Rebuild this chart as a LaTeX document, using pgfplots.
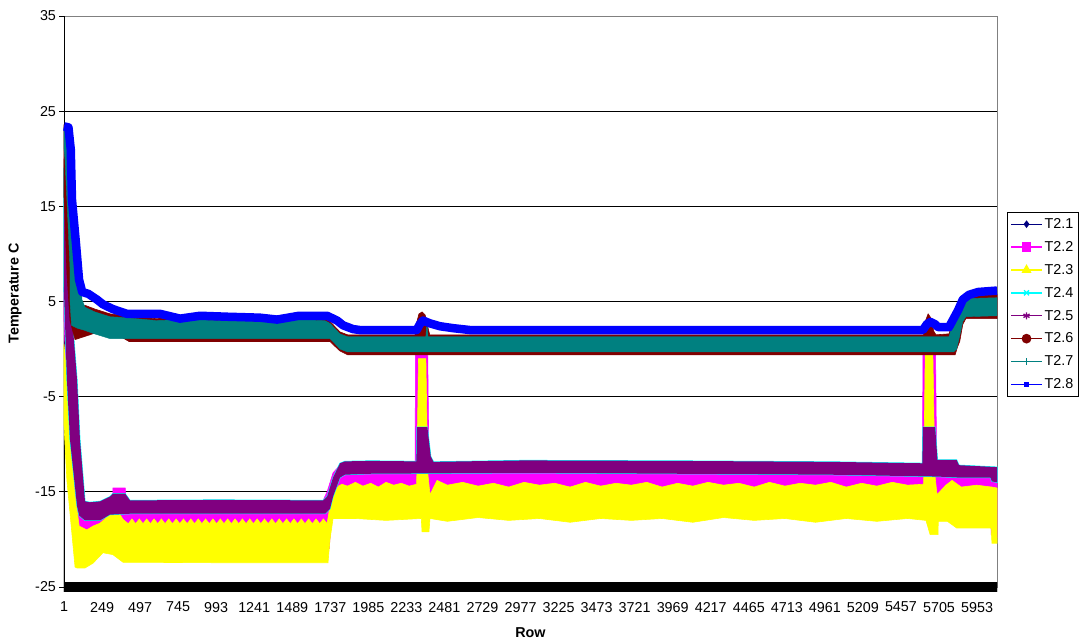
\documentclass[border=0pt]{standalone}
\usepackage{fontspec}
\setmainfont{Liberation Sans}
\usepackage{pgfplots}
\usepackage{pgfplotstable}
\pgfplotsset{compat=1.18}
\definecolor{cNavy}{RGB}{0,0,128}
\definecolor{cMag}{RGB}{255,0,255}
\definecolor{cYel}{RGB}{255,255,0}
\definecolor{cCyan}{RGB}{0,255,255}
\definecolor{cPur}{RGB}{128,0,128}
\definecolor{cRed}{RGB}{128,0,0}
\definecolor{cTeal}{RGB}{0,128,128}
\definecolor{cBlue}{RGB}{0,0,255}
\newcommand\fs{\fontsize{14.4}{16}\selectfont}

% T2.1 band outline
\pgfplotstableread{
x y
1 20
14 10
40 -5
55 -15
45 -15
30 -5
10 7.5
1 14
1 -24.5
6083 -24.5
6083 -25.5
1 -25.5
}\tNavy
% T2.2 band outline (upper edge, then lower edge back)
\pgfplotstableread{
x y
1 6.5
10 5
25 -1
45 -8
70 -14
95 -16.5
140 -16.3
318 -15.8
320 -14.6
400 -14.6
405 -15.9
1690 -15.9
1716 -15.0
1755 -13.0
1800 -12.2
2290 -12.2
2292 -0.5
2372 -0.5
2380 -12.2
5598 -12.2
5600 -0.1
5682 -0.1
5690 -12.2
6083 -12.6
6083 -19.8
6045 -19.5
6040 -15.7
5700 -15.7
5690 -16.0
5600 -15.7
2380 -15.7
1760 -15.7
1745 -17.5
1730 -21.0
1715 -18.6
300 -18.6
150 -19.2
95 -19.5
70 -17
40 -12
20 -5
1 3
}\tMag
% T2.3 band outline
\pgfplotstableread{
x y
1 0.5
15 -2
40 -8
70 -15
100 -18.6
150 -19.0
190 -18.6
236 -18.3
300 -17.4
346 -16.9
386 -17.9
420 -18.35
444 -17.85
468 -18.35
492 -17.85
516 -18.35
540 -17.85
564 -18.35
588 -17.85
612 -18.35
636 -17.85
660 -18.35
684 -17.85
708 -18.35
732 -17.85
756 -18.35
780 -17.85
804 -18.35
828 -17.85
852 -18.35
876 -17.85
900 -18.35
924 -17.85
948 -18.35
972 -17.85
996 -18.35
1020 -17.85
1044 -18.35
1068 -17.85
1092 -18.35
1116 -17.85
1140 -18.35
1164 -17.85
1188 -18.35
1212 -17.85
1236 -18.35
1260 -17.85
1284 -18.35
1308 -17.85
1332 -18.35
1356 -17.85
1380 -18.35
1404 -17.85
1428 -18.35
1452 -17.85
1476 -18.35
1500 -17.85
1524 -18.35
1548 -17.85
1572 -18.35
1596 -17.85
1620 -18.35
1644 -17.85
1668 -18.35
1692 -17.85
1716 -18.35
1735 -16.5
1755 -15.3
1790 -14.4
1813 -14.2
1850 -14.4
1900 -14.0
1950 -14.4
2000 -14.1
2050 -14.5
2100 -14.0
2150 -14.3
2200 -14.1
2250 -14.4
2300 -14.2
2312 -1.0
2360 -1.0
2372 -13.0
2387 -15.3
2433 -13.8
2500 -14.3
2600 -14.0
2700 -14.4
2800 -14.1
2900 -14.5
3000 -14.0
3100 -14.3
3200 -14.1
3300 -14.5
3400 -14.0
3500 -14.4
3600 -14.1
3700 -14.3
3800 -14.0
3900 -14.5
4000 -14.1
4100 -14.4
4200 -14.0
4300 -14.3
4400 -14.1
4500 -14.5
4600 -14.0
4700 -14.4
4800 -14.1
4900 -14.3
5000 -14.0
5100 -14.5
5200 -14.1
5300 -14.4
5400 -14.0
5500 -14.3
5605 -14.2
5615 -0.6
5665 -0.6
5678 -13.2
5692 -15.3
5750 -14.3
5790 -13.8
5850 -14.5
5950 -14.3
6050 -14.5
6083 -14.6
6083 -20.4
6050 -20.4
6045 -18.8
5820 -18.8
5760 -18.1
5700 -18.1
5699 -19.5
5647 -19.5
5620 -18.0
5500 -17.8
5300 -18.1
5100 -17.8
4900 -18.2
4700 -17.8
4500 -18.0
4300 -17.7
4100 -18.2
3900 -17.8
3700 -18.0
3500 -17.8
3300 -18.2
3100 -17.8
2900 -18.0
2700 -17.7
2500 -18.1
2387 -17.8
2380 -19.2
2335 -19.2
2330 -17.8
2100 -18.0
1900 -17.8
1755 -17.8
1735 -20.0
1722 -22.45
1000 -22.45
412 -22.4
386 -22.4
320 -21.6
255 -21.4
190 -22.5
138 -23.0
85 -23.0
73 -22.9
20 -13.8
1 -8
}\tYel
% T2.5 band outline (T2.4 shares it, slightly wider)
\pgfplotstableread{
x y
1 19
7 19.3
20 15.7
27 10.4
40 6.2
86 -3.2
105 -9.5
138 -16.0
170 -16.1
236 -16.0
301 -15.5
320 -15.2
400 -15.2
431 -15.9
1000 -15.85
1690 -15.9
1716 -15.5
1755 -13.5
1800 -12.0
1832 -11.8
2000 -11.75
2298 -11.8
2302 -8.2
2370 -8.2
2392 -11.3
2410 -11.85
3000 -11.7
4000 -11.75
5000 -11.85
5596 -12.0
5600 -8.2
5680 -8.2
5695 -11.65
5820 -11.65
5835 -12.2
6083 -12.4
6083 -14.0
6050 -13.9
6040 -13.5
5830 -13.5
5700 -13.4
5000 -13.2
4000 -13.1
3000 -13.0
2000 -13.1
1832 -13.2
1800 -13.5
1755 -15.5
1735 -16.8
1703 -17.3
431 -17.3
300 -17.4
236 -18.0
138 -18.0
100 -17.5
86 -16.5
40 -9.5
20 -3.2
1 6
}\tPur
% T2.6 band outline
\pgfplotstableread{
x y
1 23.5
5 23.4
40 18
73 12
100 6
118 4.6
138 4.6
203 4.2
301 3.7
400 3.5
600 3.2
800 3.3
1000 3.2
1300 3.1
1500 3.3
1700 3.2
1735 2.9
1800 1.8
1850 1.5
2290 1.5
2300 2.8
2315 3.7
2335 3.9
2355 3.6
2370 2.5
2385 1.5
5605 1.5
5615 2.9
5634 3.7
5655 3.2
5670 1.9
5685 1.5
5770 1.6
5790 2.7
5820 3.6
5850 4.9
5875 5.6
6083 5.7
6083 3.2
5880 3.2
5860 2.6
5840 0.8
5825 0.2
5810 -0.6
1850 -0.6
1800 -0.2
1760 0.4
1735 0.8
1700 0.8
425 0.8
360 1.4
255 2.0
170 1.5
73 1.0
40 3
20 8
7 14
1 16
}\tRed
% T2.7 band outline
\pgfplotstableread{
x y
1 23.3
7 22.7
73 15.7
105 8.6
118 5.2
138 4.4
203 3.9
301 3.4
400 3.3
600 3.0
800 3.1
1000 3.0
1300 2.9
1500 3.1
1700 3.0
1735 2.7
1800 1.6
1850 1.3
2360 1.3
2364 2.3
2370 2.3
2374 1.3
5770 1.3
5790 2.4
5820 3.2
5850 4.5
5875 5.3
6083 5.4
6083 3.5
5880 3.4
5860 2.9
5840 1.4
5820 0
5800 -0.3
1850 -0.3
1800 0.0
1760 0.7
1735 1.1
1700 1.1
300 1.1
200 1.6
130 2.0
86 2.2
50 2.5
40 5
40 8.6
20 15.7
7 20
1 21
}\tTeal
% T2.8 (centre line)
\pgfplotstableread{
x y
1 23.4
30 23.3
45 21
53 15.7
79 11.1
99 7.3
120 6.0
160 5.8
216 5.2
255 4.7
320 4.2
412 3.7
628 3.7
757 3.2
888 3.5
1064 3.4
1279 3.3
1390 3.1
1533 3.5
1716 3.5
1781 3.0
1820 2.5
1885 2.1
1931 2.0
2300 2.0
2320 2.6
2342 3.0
2387 2.7
2452 2.4
2537 2.2
2648 2.0
5600 2.0
5625 2.6
5650 2.85
5680 2.6
5700 2.3
5770 2.3
5800 3.2
5830 4.1
5860 5.2
5900 5.7
5960 6.0
6083 6.15
}\tBlue

\begin{document}
\begin{tikzpicture}
\path[use as bounding box] (-64bp,-56bp) rectangle (1015bp,587bp);
\begin{axis}[
  at={(0,0)}, anchor=south west,
  scale only axis, width=933bp, height=571bp,
  xmin=1, xmax=6083, ymin=-25, ymax=35,
  clip=false,
  axis line style={draw=black!50, line width=0.9bp},
  ytick={-25,-15,-5,5,15,25},
  yticklabels={-25,-15,-5,5,15,25},
  extra y ticks={35}, extra y tick labels={35},
  extra y tick style={grid=none},
  ymajorgrids=true,
  major grid style={black, line width=0.9bp},
  xtick={1,249,...,5953},
  xticklabels={1,249,497,745,993,1241,1489,1737,1985,2233,2481,2729,2977,3225,3473,3721,3969,4217,4465,4713,4961,5209,5457,5705,5953},
  extra x ticks={1}, extra x tick labels={},
  extra x tick style={grid=major, major tick length=0pt},
  tick align=outside, ytick pos=left, xtick pos=bottom,
  major tick length=4.5bp,
  ytick style={black, line width=0.9bp},
  xtick style={draw=none},
  ticklabel style={font=\fs, text=black},
  xticklabel style={yshift=-7bp},
  xlabel={\bfseries Row},
  ylabel={\bfseries Temperature C},
  xlabel style={font=\fs, at={(axis description cs:0.5,-0.0806)}, anchor=center},
  ylabel style={font=\fs, at={(axis description cs:-0.0525,0.514)}, anchor=center},
  legend image code/.code={\draw[mark repeat=2,mark phase=2,#1] plot coordinates {(0bp,0bp)(15.5bp,0bp)(31bp,0bp)};},
  legend cell align=left,
  legend style={at={(axis description cs:1.0107,0.6567)}, anchor=north west,
    draw=black, line width=0.8bp, fill=white, font=\fs, row sep=7.4bp,
    inner xsep=3bp, inner ysep=4bp},
]
% data (Excel draw order: T2.1 first, T2.8 last)
\addplot[fill=black, draw=black, line width=0.4bp, forget plot] table {\tNavy} -- cycle;
\addplot[fill=cMag, draw=cMag, line width=0.6bp, forget plot] table {\tMag} -- cycle;
\addplot[fill=cYel, draw=cYel, line width=0.6bp, forget plot] table {\tYel} -- cycle;
\addplot[fill=cCyan, draw=cCyan, line width=1.0bp, forget plot] table {\tPur} -- cycle;
\addplot[fill=cPur, draw=none, forget plot] table {\tPur} -- cycle;
\addplot[fill=cRed, draw=cRed, line width=0.6bp, forget plot] table {\tRed} -- cycle;
\addplot[fill=cTeal, draw=cTeal, line width=0.4bp, forget plot] table {\tTeal} -- cycle;
\addplot[draw=cBlue, line width=8.5bp, line join=round, forget plot] table {\tBlue};
% legend
\addlegendimage{cNavy, line width=1.3bp, mark=diamond*, mark size=2.8bp, mark options={fill=cNavy, solid}}
\addlegendentry{T2.1}
\addlegendimage{cMag, line width=1.3bp, mark=square*, mark size=4bp, mark options={fill=cMag, solid}}
\addlegendentry{T2.2}
\addlegendimage{cYel, line width=1.3bp, mark=triangle*, mark size=4.5bp, mark options={fill=cYel, solid}}
\addlegendentry{T2.3}
\addlegendimage{cCyan, line width=1.3bp, mark=x, mark size=3.5bp, mark options={line width=1.3bp, solid}}
\addlegendentry{T2.4}
\addlegendimage{cPur, line width=1.3bp, mark=asterisk, mark size=3.5bp, mark options={line width=1.3bp, solid}}
\addlegendentry{T2.5}
\addlegendimage{cRed, line width=1.3bp, mark=*, mark size=4.2bp, mark options={fill=cRed, solid}}
\addlegendentry{T2.6}
\addlegendimage{cTeal, line width=1.3bp, mark=+, mark size=3.5bp, mark options={line width=1.3bp, solid}}
\addlegendentry{T2.7}
\addlegendimage{cBlue, line width=1.3bp, mark=square*, mark size=2.2bp, mark options={fill=cBlue, solid}}
\addlegendentry{T2.8}
\end{axis}
\end{tikzpicture}
\end{document}
